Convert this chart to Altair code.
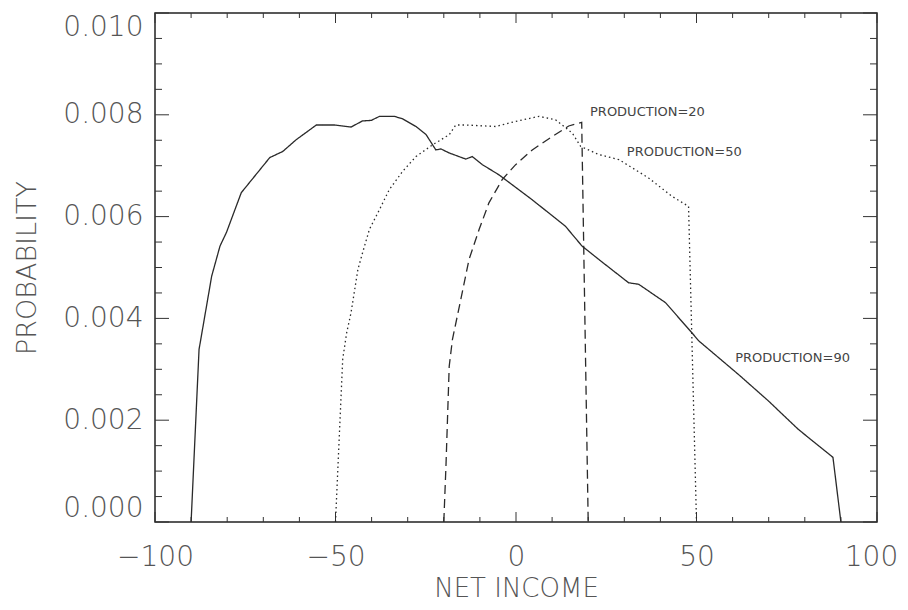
import altair as alt
import pandas as pd

# ---- data ----
p90_x = [-90, -87.8, -84.3, -82, -80.2, -76.1, -68.2, -64.6, -60.9, -55.3, -50.3, -45.7,
         -42.5, -40.1, -37.8, -33.7, -31.4, -27.7, -24.9, -22.2, -20.8, -18.5, -13.9, -12.1,
         -9.3, -4.7, 4.5, 13.7, 18.3, 22.9, 31.2, 34, 41.4, 48.7, 50.6, 61.6, 69.9, 78.2,
         87.8, 90]
p90_y = [0, 0.00339, 0.00483, 0.00542, 0.00569, 0.00647, 0.00716, 0.00728, 0.00751, 0.0078,
         0.0078, 0.00776, 0.00788, 0.00789, 0.00797, 0.00797, 0.00792, 0.00777, 0.00761,
         0.00731, 0.00733, 0.00725, 0.00713, 0.00718, 0.00702, 0.00682, 0.00633, 0.00581,
         0.00542, 0.00516, 0.0047, 0.00467, 0.00431, 0.00372, 0.00356, 0.0029, 0.00238,
         0.00182, 0.00127, 0]

p50_x = [-50, -48.9, -48, -46.9, -45.7, -43.8, -42.5, -40.6, -37.8, -35.1, -31.4, -27.7,
         -23.1, -18.5, -16.7, -13.9, -5.6, -0.1, 6.4, 11, 15.6, 17.9, 22.9, 28.5, 36.7,
         43.2, 47.8, 50]
p50_y = [0, 0.00176, 0.0032, 0.00372, 0.00411, 0.00496, 0.00529, 0.00575, 0.00614, 0.00653,
         0.00689, 0.00718, 0.00741, 0.00761, 0.0078, 0.0078, 0.00777, 0.00787, 0.00797,
         0.0079, 0.00764, 0.00738, 0.00722, 0.00712, 0.00676, 0.0064, 0.0062, 0]

p20_x = [-20, -19.4, -18.5, -17.6, -15.3, -13, -10.2, -7.5, -3.8, -0.1, 4.5, 10, 14.6,
         18.2, 20]
p20_y = [0, 0.0011, 0.00306, 0.00359, 0.00437, 0.00516, 0.00575, 0.00627, 0.00673, 0.00702,
         0.00731, 0.00757, 0.00778, 0.00785, 0]

series_names = ["PRODUCTION=90", "PRODUCTION=50", "PRODUCTION=20"]

label_text = ["PRODUCTION=20", "PRODUCTION=50", "PRODUCTION=90"]
label_x = [20.5, 30.7, 60.7]
label_y = [0.00806, 0.00727, 0.00322]

x_major = [-100, -50, 0, 50, 100]
x_minor = [-90, -80, -70, -60, -40, -30, -20, -10, 10, 20, 30, 40, 60, 70, 80, 90]
y_major = [0.0, 0.002, 0.004, 0.006, 0.008, 0.010]
y_minor = [0.0005, 0.001, 0.0015, 0.0025, 0.003, 0.0035, 0.0045, 0.005, 0.0055,
           0.0065, 0.007, 0.0075, 0.0085, 0.009, 0.0095]

# ---- build table ----
rows = []
for name, xs, ys in zip(series_names, [p90_x, p50_x, p20_x], [p90_y, p50_y, p20_y]):
    for i, (a, b) in enumerate(zip(xs, ys)):
        rows.append({"series": name, "income": a, "prob": b, "order": i})
df = pd.DataFrame(rows)
labels = pd.DataFrame({"text": label_text, "income": label_x, "prob": label_y})

W, H = 722, 509
FONT = "DejaVu Sans"
INK = "#2a2a2a"
TXT = "#555"

xscale = alt.Scale(domain=[-100, 100], nice=False, zero=False)
yscale = alt.Scale(domain=[0, 0.010], nice=False, zero=False)

xaxis = alt.Axis(values=x_major, format="d", title="NET INCOME", grid=False, ticks=False,
                 tickSize=0, domain=False, labelFontSize=28, labelPadding=21,
                 labelFlush=False, labelOverlap=False, labelBound=False,
                 labelFont=FONT, labelColor=TXT, labelFontWeight=300,
                 labelOffset={"condition": {"test": "datum.value == 100", "value": -6},
                              "value": 0},
                 titleFont=FONT, titleFontSize=26, titleFontWeight=300,
                 titleColor=TXT, titleY=74, titleBaseline="alphabetic")
yaxis = alt.Axis(values=y_major, format=".3f", title="PROBABILITY", grid=False, ticks=False,
                 tickSize=0, domain=False, labelFontSize=28, labelPadding=12,
                 labelFlush=True, labelOverlap=False, labelFont=FONT, labelColor=TXT,
                 labelFontWeight=300,
                 titleFont=FONT, titleFontSize=27, titleFontWeight=300,
                 titleColor=TXT, titleX=-128, titleBaseline="middle")

lines = alt.Chart(df).mark_line(color=INK, strokeWidth=1.3).encode(
    x=alt.X("income:Q", scale=xscale, axis=xaxis),
    y=alt.Y("prob:Q", scale=yscale, axis=yaxis),
    strokeDash=alt.StrokeDash("series:N",
                              scale=alt.Scale(domain=series_names,
                                              range=[[1, 0], [1.5, 3], [9, 5]]),
                              legend=None),
    order="order:Q",
)

texts = alt.Chart(labels).mark_text(align="left", baseline="middle", font=FONT,
                                    fontSize=13, color="#444").encode(
    x=alt.X("income:Q", scale=xscale, axis=xaxis),
    y=alt.Y("prob:Q", scale=yscale, axis=yaxis),
    text="text:N",
)


def xticks(vals, length, top):
    d = pd.DataFrame({"v": vals})
    if top:
        yy, yy2 = alt.value(0), alt.value(length)
    else:
        yy, yy2 = alt.value(H), alt.value(H - length)
    return alt.Chart(d).mark_rule(color="#333", strokeWidth=1).encode(
        x=alt.X("v:Q", scale=xscale, axis=xaxis), y=yy, y2=yy2)


def yticks(vals, length, right):
    d = pd.DataFrame({"v": vals})
    if right:
        xx, xx2 = alt.value(W), alt.value(W - length)
    else:
        xx, xx2 = alt.value(0), alt.value(length)
    return alt.Chart(d).mark_rule(color="#333", strokeWidth=1).encode(
        y=alt.Y("v:Q", scale=yscale, axis=yaxis), x=xx, x2=xx2)


tick_layers = [
    xticks(x_major, 10, False), xticks(x_minor, 5, False),
    xticks(x_major, 10, True), xticks(x_minor, 5, True),
    yticks(y_major, 14, False), yticks(y_minor, 7, False),
    yticks(y_major, 14, True), yticks(y_minor, 7, True),
]

chart = alt.layer(*tick_layers, lines, texts).properties(
    width=W, height=H,
    padding={"left": 147, "top": 5, "right": 23, "bottom": 80},
    autosize=alt.AutoSizeParams(type="none"),
    background="white",
).configure_view(stroke="#222", strokeWidth=1.5)

chart.save("out.html", embed_options={"renderer": "svg", "actions": False})
